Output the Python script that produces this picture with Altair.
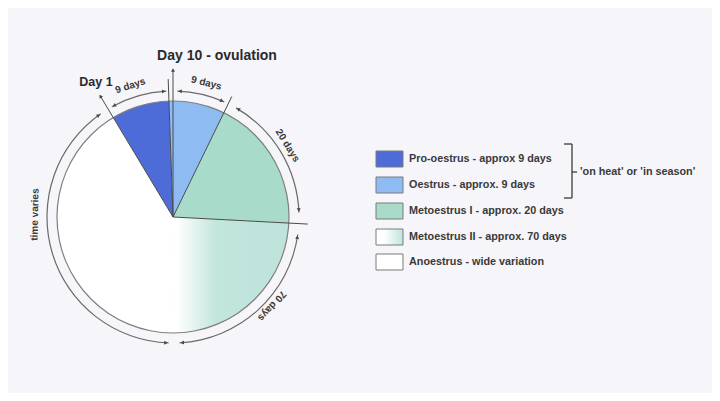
import math
import altair as alt
import pandas as pd

# ---------------- data ----------------
phases = ["Pro-oestrus", "Oestrus", "Metoestrus I", "Metoestrus II", "Anoestrus"]
sweep_deg = [29, 28, 67, 86, 150]          # share of the wheel (degrees)
START_DEG = -31                            # Day 1 position (clockwise from 12 o'clock)
phase_colors = ["#4e6cd8", "#8fbbf3", "#a8dbca", "#bfe4db", "#ffffff"]

legend_labels = [
    "Pro-oestrus - approx 9 days",
    "Oestrus - approx. 9 days",
    "Metoestrus I - approx. 20 days",
    "Metoestrus II - approx. 70 days",
    "Anoestrus - wide variation",
]

ring_labels = ["9 days", "9 days", "20 days", "70 days", "time varies"]
ring_start = [-29, 2, 30, 98, 182]
ring_end = [-3, 24, 88, 177, 325]
ring_label_angle = [-18, 14, 58, 132, 271]
ring_label_r = [138, 138, 135, 133, 138]

boundary_angle = [-31, -2, 0, 26, 93]
boundary_rout = [141, 138, 147, 134, 135]

season_text = "'on heat' or 'in season'"

# ---------------- layout ----------------
CX, CY, R, RING = 173, 217, 116, 126
FONT = "Liberation Sans"
INK = "#3a3a3a"

xs = alt.Scale(domain=[8, 712], range=[0, 704], nice=False, zero=False)
ys = alt.Scale(domain=[8, 393], range=[0, 385], nice=False, zero=False)
ts = alt.Scale(domain=[0, 360], range=[0, 2 * math.pi], nice=False, zero=False)

X = lambda f: alt.X(f, type="quantitative", scale=xs, axis=None)
Y = lambda f: alt.Y(f, type="quantitative", scale=ys, axis=None)
TH = lambda f: alt.Theta(f, type="quantitative", scale=ts)

seg_df = pd.DataFrame({"phase": phases, "sweep": sweep_deg, "order": range(len(phases))})
seg = (
    alt.Chart(seg_df)
    .transform_window(cum="sum(sweep)", sort=[{"field": "order"}])
    .transform_calculate(
        t0=f"{START_DEG} + datum.cum - datum.sweep",
        t1=f"{START_DEG} + datum.cum",
        cx=str(CX), cy=str(CY),
    )
)

solid = seg.transform_filter("datum.phase != 'Metoestrus II'").mark_arc(radius=R).encode(
    x=X("cx"), y=Y("cy"), theta=TH("t0"), theta2="t1:Q",
    color=alt.Color("phase:N", scale=alt.Scale(domain=phases, range=phase_colors), legend=None),
)

grad = alt.Gradient(
    gradient="linear",
    stops=[
        alt.GradientStop(color="#ffffff", offset=0),
        alt.GradientStop(color="#ffffff", offset=0.03),
        alt.GradientStop(color="#c2e5dc", offset=0.38),
        alt.GradientStop(color="#bde3da", offset=1),
    ],
    x1=0, x2=1, y1=0, y2=0,
)
metII = seg.transform_filter("datum.phase == 'Metoestrus II'").mark_arc(radius=R, fill=grad).encode(
    x=X("cx"), y=Y("cy"), theta=TH("t0"), theta2="t1:Q",
)

outline_df = pd.DataFrame({"t0": [0], "t1": [360], "cx": [CX], "cy": [CY]})
outline = alt.Chart(outline_df).mark_arc(radius=R + 0.6, radius2=R - 0.6, color="#7f7f7f").encode(
    x=X("cx"), y=Y("cy"), theta=TH("t0"), theta2="t1:Q"
)

ring_df = pd.DataFrame({"t0": ring_start, "t1": ring_end, "cx": CX, "cy": CY})
ring = alt.Chart(ring_df).mark_arc(radius=RING + 0.6, radius2=RING - 0.6, color="#6a6a6a").encode(
    x=X("cx"), y=Y("cy"), theta=TH("t0"), theta2="t1:Q"
)

# arrowheads
arr_rows = []
for s, e in zip(ring_start, ring_end):
    arr_rows.append({"a": s + 1.2, "r": RING, "rot": s - 90})
    arr_rows.append({"a": e - 1.2, "r": RING, "rot": e + 90})
arr_rows.append({"a": boundary_angle[0], "r": boundary_rout[0], "rot": boundary_angle[0]})
arr_rows.append({"a": boundary_angle[2], "r": boundary_rout[2], "rot": boundary_angle[2]})
arr_df = pd.DataFrame(arr_rows)
arrows = (
    alt.Chart(arr_df)
    .transform_calculate(
        x=f"{CX} + datum.r * sin(datum.a * PI / 180)",
        y=f"{CY} - datum.r * cos(datum.a * PI / 180)",
        rr="(datum.rot + 360) % 360",
    )
    .mark_point(shape="triangle-up", filled=True, size=16, color="#444444", opacity=1)
    .encode(x=X("x"), y=Y("y"), angle=alt.Angle("rr:Q", scale=None))
)

rule_df = pd.DataFrame({"a": boundary_angle, "r1": boundary_rout})
rules = (
    alt.Chart(rule_df)
    .transform_calculate(
        x0=str(CX), y0=str(CY),
        x1=f"{CX} + datum.r1 * sin(datum.a * PI / 180)",
        y1=f"{CY} - datum.r1 * cos(datum.a * PI / 180)",
    )
    .mark_rule(color="#4a4a4a", strokeWidth=1)
    .encode(x=X("x0"), y=Y("y0"), x2="x1:Q", y2="y1:Q")
)

lab_df = pd.DataFrame({"t": ring_labels, "a": ring_label_angle, "r": ring_label_r})
ring_text = (
    alt.Chart(lab_df)
    .transform_calculate(
        x=f"{CX} + datum.r * sin(datum.a * PI / 180)",
        y=f"{CY} - datum.r * cos(datum.a * PI / 180)",
        rot="(datum.a + 360) % 360",
    )
    .mark_text(font=FONT, fontSize=10, fontWeight="bold", color=INK, baseline="middle", align="center")
    .encode(x=X("x"), y=Y("y"), text="t:N", angle=alt.Angle("rot:Q", scale=None))
)

title_df = pd.DataFrame({"t": ["Day 1", "Day 10 - ovulation"], "x": [96, 217], "y": [82, 56], "s": [12.5, 14]})
titles = alt.Chart(title_df).mark_text(font=FONT, fontWeight="bold", color="#2a2a2a", baseline="middle").encode(
    x=X("x"), y=Y("y"), text="t:N", size=alt.Size("s:Q", scale=None)
)

# legend
leg_y = [159, 185, 211, 237, 262]
leg_df = pd.DataFrame({"phase": phases, "label": legend_labels, "yc": leg_y})
leg_base = alt.Chart(leg_df).transform_calculate(x0="376", x1="403", y0="datum.yc - 8", y1="datum.yc + 8", xt="409")
leg_solid = leg_base.transform_filter("datum.phase != 'Metoestrus II'").mark_rect(stroke="#7a7a7a", strokeWidth=1).encode(
    x=X("x0"), x2="x1:Q", y=Y("y0"), y2="y1:Q",
    color=alt.Color("phase:N", scale=alt.Scale(domain=phases, range=phase_colors), legend=None),
)
leg_grad = leg_base.transform_filter("datum.phase == 'Metoestrus II'").mark_rect(
    stroke="#7a7a7a", strokeWidth=1,
    fill=alt.Gradient(gradient="linear", stops=[
        alt.GradientStop(color="#ffffff", offset=0),
        alt.GradientStop(color="#ffffff", offset=0.3),
        alt.GradientStop(color="#bfe4db", offset=1),
    ], x1=0, x2=1, y1=0, y2=0),
).encode(x=X("x0"), x2="x1:Q", y=Y("y0"), y2="y1:Q")
leg_text = leg_base.mark_text(font=FONT, fontSize=10.8, fontWeight="bold", color=INK, align="left", baseline="middle").encode(
    x=X("xt"), y=Y("yc"), text="label:N"
)

br_df = pd.DataFrame({
    "x0": [572, 564, 564, 572], "x1": [572, 572, 572, 577],
    "y0": [144, 144, 198, 172], "y1": [198, 144, 198, 172],
})
bracket = alt.Chart(br_df).mark_rule(color="#3a3a3a", strokeWidth=1.3).encode(
    x=X("x0"), x2="x1:Q", y=Y("y0"), y2="y1:Q"
)
season_df = pd.DataFrame({"t": [season_text], "x": [580], "y": [172]})
season = alt.Chart(season_df).mark_text(font=FONT, fontSize=10.8, fontWeight="bold", color=INK, align="left", baseline="middle").encode(
    x=X("x"), y=Y("y"), text="t:N"
)

chart = (
    alt.layer(solid, metII, outline, rules, ring, arrows, ring_text, titles,
              leg_solid, leg_grad, leg_text, bracket, season)
    .properties(width=704, height=385, padding=0, autosize=alt.AutoSizeParams(type="none"), background="#f6f5f9")
    .configure_view(stroke=None)
)

chart.save("out.html", embed_options={"renderer": "svg", "actions": False})
